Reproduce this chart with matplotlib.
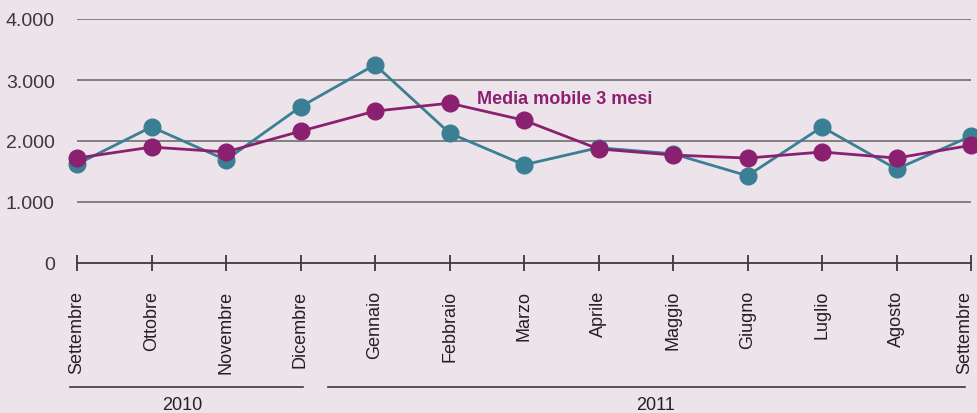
import matplotlib
matplotlib.use("Agg")
import matplotlib.pyplot as plt
import matplotlib.transforms as mtransforms

months = ["Settembre", "Ottobre", "Novembre", "Dicembre", "Gennaio", "Febbraio",
          "Marzo", "Aprile", "Maggio", "Giugno", "Luglio", "Agosto", "Settembre"]
monthly = [1620, 2230, 1690, 2560, 3250, 2130, 1610, 1890, 1790, 1430, 2230, 1540, 2080]
moving_avg = [1720, 1900, 1820, 2160, 2490, 2620, 2340, 1870, 1770, 1720, 1820, 1720, 1930]
yticks = [0, 1000, 2000, 3000, 4000]
ytick_labels = ["0", "1.000", "2.000", "3.000", "4.000"]
years = ["2010", "2011"]

bg = "#ede3eb"
teal = "#3a7f93"
purple = "#8b2070"
dark = "#3a3a3a"

plt.rcParams['font.family'] = ['Liberation Sans', 'DejaVu Sans']

fig = plt.figure(figsize=(9.77, 4.14), dpi=100, facecolor=bg)
ax = fig.add_axes([77/977, 1-264/414, (971-77)/977, 244/414])
ax.set_facecolor(bg)

x = list(range(len(months)))
ax.plot(x, monthly, color=teal, lw=2.0, marker='o', ms=12, mec=teal, mfc=teal,
        clip_on=False, zorder=3)
ax.plot(x, moving_avg, color=purple, lw=2.0, marker='o', ms=12, mec=purple, mfc=purple,
        clip_on=False, zorder=4)

ax.set_xlim(0, len(months) - 1)
ax.set_ylim(0, 4000)
for v in yticks[1:]:
    ax.axhline(v, color="#6e6e6e", lw=1.2, zorder=1)

for s in ["top", "right", "left"]:
    ax.spines[s].set_visible(False)
ax.spines["bottom"].set_color(dark)
ax.spines["bottom"].set_linewidth(1.3)

ax.set_yticks(yticks)
ax.set_yticklabels(ytick_labels, fontsize=14, color=dark)
ax.tick_params(axis='y', length=0, pad=16)

ax.set_xticks(x)
ax.set_xticklabels(months, rotation=90, fontsize=13, color="#222222")
ax.tick_params(axis='x', direction='inout', length=11, width=1.3, color=dark, pad=14)
last = ax.get_xticklabels()[-1]
last.set_transform(last.get_transform() + mtransforms.Affine2D().translate(-6, 0))

ax.text(6.55, 2690, "Media mobile 3 mesi", color=purple, fontsize=13,
        fontweight='bold', ha='center', va='center', zorder=5)

trans = mtransforms.blended_transform_factory(ax.transData, ax.transAxes)
year_spans = [(-0.094, 3.03), (3.37, 11.92)]
year_centers = [1.41, 7.76]
for (a, b), c, lab in zip(year_spans, year_centers, years):
    ax.plot([a, b], [-0.508, -0.508], color=dark, lw=1.2, transform=trans, clip_on=False)
    ax.text(c, -0.578, lab, transform=trans, ha='center', va='center',
            fontsize=13, color="#222222")

fig.savefig("out.png", dpi=100, facecolor=bg)
